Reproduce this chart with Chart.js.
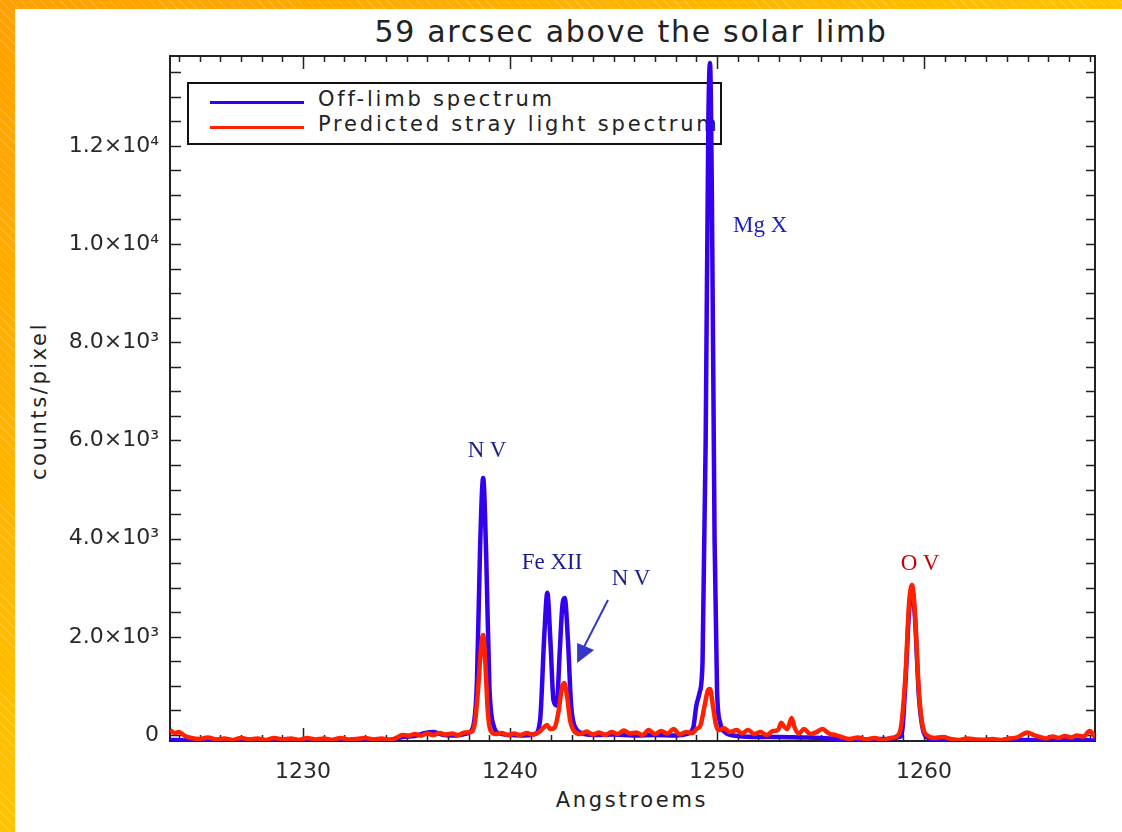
<!DOCTYPE html>
<html>
<head>
<meta charset="utf-8">
<script src="https://cdn.jsdelivr.net/npm/chart.js@4"></script>
<style>
  html, body { margin: 0; padding: 0; }
  body {
    width: 1122px; height: 832px; position: relative; overflow: hidden;
    background:
      repeating-linear-gradient(45deg, rgba(255,255,255,0.2) 0 1px, transparent 1px 7px),
      linear-gradient(to bottom right, #ffa000, #ffe600);
  }
  #panel { position: absolute; left: 15px; top: 9px; right: 0; bottom: 0; background: #fff; }
  #chartBox { position: absolute; left: 0; top: 0; width: 1122px; height: 832px; }
  .txt { position: absolute; font-family: 'DejaVu Sans', sans-serif; color: #222; white-space: nowrap; }
  #title { left: 631px; top: 14px; font-size: 30px; letter-spacing: 1.7px; transform: translateX(-50%); }
  #xTitle { left: 632px; top: 788px; font-size: 21px; letter-spacing: 2.7px; transform: translateX(-50%); }
  #yTitle { left: 39px; top: 401px; font-size: 21px; letter-spacing: 2.6px; transform: translate(-50%, -50%) rotate(-90deg); }
  #legend { position: absolute; left: 187px; top: 82px; width: 531px; height: 59px; border: 2px solid #111; }
  .legLine { position: absolute; left: 21px; width: 94px; height: 3px; }
  .legText { position: absolute; left: 129px; font-family: 'DejaVu Sans', sans-serif; font-size: 21px; letter-spacing: 2.8px; color: #222; white-space: nowrap; }
  .note { position: absolute; font-family: 'Liberation Serif', serif; font-size: 23px; white-space: nowrap; transform: translate(-50%, -50%); }
</style>
</head>
<body>
<div id="panel"></div>
<div id="legend">
  <div class="legLine" style="top:17px;background:#3300f0"></div>
  <div class="legText" style="top:3px">Off-limb spectrum</div>
  <div class="legLine" style="top:42px;background:#ff2200"></div>
  <div class="legText" style="top:28px">Predicted stray light spectrum</div>
</div>
<div id="title" class="txt">59 arcsec above the solar limb</div>
<div id="xTitle" class="txt">Angstroems</div>
<div id="yTitle" class="txt">counts/pixel</div>
<div id="chartBox"><canvas id="myChart" width="1122" height="832"></canvas></div>
<div id="n1" class="note" style="color:#1c1c96">N V</div>
<div id="n2" class="note" style="color:#1c1c96">Fe XII</div>
<div id="n3" class="note" style="color:#1c1c96">N V</div>
<div id="n4" class="note" style="color:#1e1ec0">Mg X</div>
<div id="n5" class="note" style="color:#cc0000">O V</div>
<script>
// axis ranges and ticks
const xRange = [1223.57, 1268.26];
const yRange = [-122, 13829];
const xMajor = [1230, 1240, 1250, 1260];
const xLabels = ['1230', '1240', '1250', '1260'];
const yMajor = [0, 2000, 4000, 6000, 8000, 10000, 12000];
const yLabels = ['0', '2.0×10³', '4.0×10³', '6.0×10³', '8.0×10³', '1.0×10⁴', '1.2×10⁴'];

// off-limb spectrum (blue)
const blueWave = [1223.57, 1224.5, 1225.5, 1226.5, 1227.5, 1228.5, 1229.5, 1230.5, 1231.5, 1232.5, 1233.5, 1234.3,
  1234.8, 1235.4, 1235.9, 1236.3, 1236.8, 1237.4, 1237.9, 1238.2, 1238.4, 1238.55, 1238.7, 1238.85, 1239.0, 1239.2,
  1239.5, 1240.0, 1240.6, 1241.2, 1241.45, 1241.65, 1241.8, 1241.95, 1242.1, 1242.25, 1242.4, 1242.52, 1242.64,
  1242.8, 1242.95, 1243.2, 1243.6, 1244.2, 1245, 1246, 1247, 1248, 1248.6, 1248.85, 1249.0, 1249.15, 1249.3,
  1249.45, 1249.58, 1249.66, 1249.75, 1249.88, 1250.0, 1250.15, 1250.4, 1251, 1252, 1253, 1254, 1255, 1256, 1257,
  1258, 1258.9, 1259.1, 1259.28, 1259.42, 1259.56, 1259.75, 1259.95, 1260.2, 1260.5, 1261, 1262, 1263, 1264, 1265,
  1266, 1267, 1268.26];
const blueCounts = [-100, -110, -100, -110, -100, -110, -100, -110, -100, -110, -100, -90,
  -40, -20, 40, 60, 0, -10, 30, 150, 1100, 3800, 5234, 3600, 1000, 200,
  30, 0, -10, 20, 300, 2000, 2898, 1900, 700, 600, 1700, 2600, 2790,
  1900, 600, 120, 20, 0, 10, -10, 0, -10, 30, 150, 600, 850, 1500,
  6000, 12500, 13686, 11000, 4000, 900, 250, 50, -20, -40, -40, -50, -60, -80, -90,
  -80, -30, 1050, 2550, 2950, 2400, 800, 100, -60, -90, -100, -110, -100, -110, -100,
  -110, -100, -110];

// predicted stray light spectrum (red)
const redWave = [1223.57, 1223.8, 1224.0, 1224.3, 1224.6, 1225.0, 1225.4, 1225.8, 1226.2, 1226.6, 1227.0, 1227.4,
  1227.8, 1228.2, 1228.6, 1229.0, 1229.4, 1229.8, 1230.2, 1230.6, 1231.0, 1231.4, 1231.8, 1232.2, 1232.6, 1233.0,
  1233.4, 1233.8, 1234.2, 1234.5, 1234.8, 1235.1, 1235.4, 1235.7, 1236.0, 1236.3, 1236.6, 1236.9, 1237.2, 1237.5,
  1237.8, 1238.1, 1238.3, 1238.45, 1238.6, 1238.7, 1238.8, 1238.92, 1239.05, 1239.3, 1239.6, 1239.9, 1240.2,
  1240.5, 1240.8, 1241.1, 1241.4, 1241.6, 1241.78, 1241.95, 1242.15, 1242.35, 1242.5, 1242.62, 1242.75, 1242.9,
  1243.1, 1243.4, 1243.7, 1244.0, 1244.3, 1244.6, 1244.9, 1245.2, 1245.5, 1245.8, 1246.1, 1246.4, 1246.7, 1247.0,
  1247.3, 1247.6, 1247.9, 1248.2, 1248.5, 1248.8, 1249.0, 1249.2, 1249.4, 1249.55, 1249.66, 1249.8, 1249.95,
  1250.1, 1250.35, 1250.6, 1250.95, 1251.2, 1251.5, 1251.8, 1252.1, 1252.4, 1252.7, 1252.95, 1253.1, 1253.24,
  1253.4, 1253.6, 1253.75, 1253.95, 1254.2, 1254.5, 1254.8, 1255.1, 1255.4, 1255.7, 1256.0, 1256.4, 1256.8,
  1257.2, 1257.6, 1258.0, 1258.4, 1258.7, 1258.9, 1259.1, 1259.28, 1259.42, 1259.56, 1259.75, 1259.95, 1260.2,
  1260.5, 1260.9, 1261.3, 1261.7, 1262.1, 1262.5, 1262.9, 1263.3, 1263.7, 1264.1, 1264.5, 1264.8, 1265.0, 1265.3,
  1265.6, 1265.9, 1266.2, 1266.5, 1266.8, 1267.1, 1267.4, 1267.7, 1268.0, 1268.26];
const redCounts = [100, 40, 60, -20, -60, -80, -50, -90, -70, -100, -60, -90,
  -70, -100, -60, -90, -70, -100, -60, -90, -70, -100, -60, -90, -80, -60,
  -90, -70, -100, -60, 0, -10, 20, -10, 30, 0, 40, 10, 30, 0,
  50, 60, 250, 900, 1800, 2037, 1500, 500, 100, 20, 40, 0, 30,
  0, 40, 10, 60, 140, 204, 120, 150, 500, 950, 1059, 800, 300,
  80, 20, 70, 10, 50, 0, 60, 20, 90, 30, 50, 0, 100, 20,
  80, 30, 120, 10, 60, 40, 120, 200, 600, 900, 937, 600, 200,
  100, 140, 60, 100, 30, 100, 20, 60, 0, 80, 100, 250, 170,
  120, 346, 150, 30, 120, 20, 60, 120, 30, 0, -40, -80, -50,
  -90, -60, -100, -60, -20, 200, 1200, 2700, 3055, 2500, 900, 150, -20,
  -60, -40, -80, -100, -70, -90, -100, -80, -100, -70, -50, 20, 50, 0,
  -40, -70, -30, -60, -20, -50, -10, -30, 80, -40];

// line labels, placed at [wavelength, counts]
const notes = [
  { id: 'n1', at: [1238.89, 5804] },
  { id: 'n2', at: [1242.03, 3523] },
  { id: 'n3', at: [1245.85, 3198] },
  { id: 'n4', at: [1252.08, 10387] },
  { id: 'n5', at: [1259.81, 3503] }
];
const arrowFrom = [1244.73, 2749];
const arrowTo = [1243.57, 1792];
const arrowHead = [[1243.24, 1874], [1244.06, 1731], [1243.24, 1466]];

const toPoints = (xs, ys) => xs.map((x, i) => ({ x: x, y: ys[i] }));

const frameTicks = {
  id: 'frameTicks',
  beforeDatasetsDraw(chart) {
    const { ctx, chartArea: a, scales: { x, y } } = chart;
    ctx.save();
    ctx.strokeStyle = '#222';
    ctx.lineWidth = 1.5;
    ctx.beginPath();
    for (let w = 1224; w <= 1268; w++) {
      const px = Math.round(x.getPixelForValue(w)) + 0.5;
      const len = w % 10 === 0 ? 13 : 6;
      ctx.moveTo(px, a.bottom); ctx.lineTo(px, a.bottom - len);
      ctx.moveTo(px, a.top); ctx.lineTo(px, a.top + len);
    }
    for (let c = 0; c <= 13500; c += 500) {
      const py = Math.round(y.getPixelForValue(c)) + 0.5;
      ctx.moveTo(a.left, py); ctx.lineTo(a.left + 11, py);
      ctx.moveTo(a.right, py); ctx.lineTo(a.right - 9, py);
    }
    ctx.stroke();
    ctx.lineWidth = 2;
    ctx.strokeRect(a.left, a.top, a.right - a.left, a.bottom - a.top);
    ctx.restore();
  },
  afterDatasetsDraw(chart) {
    const { ctx, scales: { x, y } } = chart;
    const px = p => [x.getPixelForValue(p[0]), y.getPixelForValue(p[1])];
    ctx.save();
    ctx.strokeStyle = '#3636c8';
    ctx.fillStyle = '#3636c8';
    ctx.lineWidth = 2;
    const f = px(arrowFrom), t = px(arrowTo);
    ctx.beginPath(); ctx.moveTo(f[0], f[1]); ctx.lineTo(t[0], t[1]); ctx.stroke();
    ctx.beginPath();
    arrowHead.forEach((p, i) => { const q = px(p); i ? ctx.lineTo(q[0], q[1]) : ctx.moveTo(q[0], q[1]); });
    ctx.closePath(); ctx.fill();
    ctx.restore();
    notes.forEach(n => {
      const el = document.getElementById(n.id);
      const q = px(n.at);
      el.style.left = q[0] + 'px';
      el.style.top = q[1] + 'px';
    });
  }
};

new Chart('myChart', {
  type: 'line',
  data: {
    datasets: [{
      label: 'Off-limb spectrum',
      data: toPoints(blueWave, blueCounts),
      borderColor: '#3300f0',
      borderWidth: 4.5,
      pointRadius: 0,
      cubicInterpolationMode: 'monotone',
      fill: false,
      order: 2
    }, {
      label: 'Predicted stray light spectrum',
      data: toPoints(redWave, redCounts),
      borderColor: '#ff2200',
      borderWidth: 4.5,
      pointRadius: 0,
      cubicInterpolationMode: 'monotone',
      fill: false,
      order: 1
    }]
  },
  plugins: [frameTicks],
  options: {
    responsive: false,
    animation: false,
    layout: { padding: { left: 0, top: 56, right: 27, bottom: 0 } },
    plugins: { legend: { display: false }, tooltip: { enabled: false }, title: { display: false } },
    scales: {
      x: {
        type: 'linear',
        min: xRange[0],
        max: xRange[1],
        afterBuildTicks: s => { s.ticks = xMajor.map(v => ({ value: v })); },
        afterFit: s => { s.height = 91; },
        grid: { display: false, drawTicks: false },
        border: { display: false },
        ticks: {
          padding: 18,
          maxRotation: 0,
          color: '#2a2a2a',
          font: { family: 'DejaVu Sans', size: 22 },
          callback: v => xLabels[xMajor.indexOf(v)]
        }
      },
      y: {
        type: 'linear',
        min: yRange[0],
        max: yRange[1],
        afterBuildTicks: s => { s.ticks = yMajor.map(v => ({ value: v })); },
        afterFit: s => { s.width = 170; },
        grid: { display: false, drawTicks: false },
        border: { display: false },
        ticks: {
          padding: 11,
          color: '#2a2a2a',
          font: { family: 'DejaVu Sans', size: 22 },
          callback: v => yLabels[yMajor.indexOf(v)]
        }
      }
    }
  }
});
</script>
</body>
</html>
